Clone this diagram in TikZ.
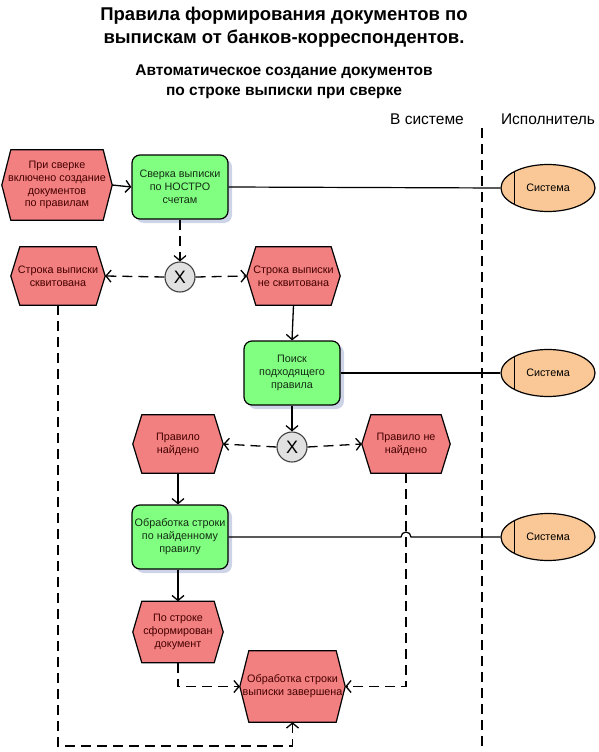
\documentclass[tikz,border=0pt]{standalone}
\usepackage{fontspec}
\setmainfont{Liberation Sans}
\usetikzlibrary{arrows.meta,shadows,calc,shapes.misc,shapes.geometric}
\definecolor{hexred}{RGB}{242,128,128}
\definecolor{hextext}{RGB}{70,0,0}
\definecolor{greenfill}{RGB}{128,255,128}
\definecolor{boxtext}{RGB}{20,45,20}
\definecolor{shadowblue}{RGB}{205,212,232}
\definecolor{peach}{RGB}{250,200,150}
\definecolor{xorgray}{RGB}{225,225,225}
\pgfdeclarelayer{bg}
\pgfsetlayers{bg,main}
\begin{document}
\begin{tikzpicture}[x=1pt,y=-1pt,
  nodefont/.style={font=\fontsize{10.8}{12.9}\selectfont},
  hexnode/.style={rectangle, inner sep=0pt, align=center, text=hextext, nodefont},
  hexshape/.style={draw=black, line width=1.2pt, fill=hexred},
  funcbox/.style={draw=black, line width=1.2pt, fill=greenfill, rounded corners=8pt,
    align=center, inner sep=0pt, text=boxtext, nodefont,
    minimum width=96pt, minimum height=64pt,
    drop shadow={fill=shadowblue, opacity=1, shadow xshift=4pt, shadow yshift=-4pt}},
  sysnode/.style={ellipse, draw=black, line width=1.2pt, fill=peach,
    minimum width=94pt, minimum height=47pt, inner sep=0pt, nodefont,
    path picture={\draw[line width=1pt] ($(path picture bounding box.west)+(13pt,30pt)$) -- ++(0pt,-60pt);}},
  xornode/.style={circle, draw=black!75, line width=1.1pt, fill=xorgray, minimum size=30pt,
    inner sep=0pt, font=\fontsize{18}{18}\selectfont},
  flow/.style={line width=1.3pt, -{Straight Barb[length=5pt,width=12pt]}},
  dflow/.style={flow, dash pattern=on 10pt off 6pt},
  dline/.style={line width=1.3pt, dash pattern=on 10pt off 6pt},
  sline/.style={line width=1.2pt},
  titlefont/.style={font=\fontsize{18.5}{23}\selectfont\bfseries, align=center},
  subfont/.style={font=\fontsize{15.5}{19.5}\selectfont\bfseries, align=center},
  headfont/.style={font=\fontsize{15.5}{17}\selectfont}
]
\useasboundingbox (0,0) rectangle (598,752);

% titles
\node[titlefont] (title) at (284,27) {Правила формирования документов по\\выпискам от банков-корреспондентов.};
\node[subfont] (sub) at (284,82) {Автоматическое создание документов\\по строке выписки при сверке};
\node[headfont] (hsys) at (427,119) {В системе};
\node[headfont] (hexe) at (548,119) {Исполнитель};

% lane separator
\coordinate (lt) at (482,128);
\coordinate (lb) at (482,752);
\draw[dline] (lt) -- (lb);

% hexagon events
\node[hexnode, minimum width=110pt, minimum height=70pt] (h1) at (57,185) {При сверке\\включено создание\\документов\\по правилам};
\node[hexnode, minimum width=94pt, minimum height=58pt] (h2) at (58,276) {Строка выписки\\сквитована};
\node[hexnode, minimum width=93pt, minimum height=58pt] (h3) at (293.5,276) {Строка выписки\\не сквитована};
\node[hexnode, minimum width=90pt, minimum height=58pt] (h4) at (178,444) {Правило\\найдено};
\node[hexnode, minimum width=88pt, minimum height=58pt] (h5) at (406,444) {Правило не\\найдено};
\node[hexnode, minimum width=90pt, minimum height=61pt] (h6) at (178,632) {По строке\\сформирован\\документ};
\node[hexnode, minimum width=105pt, minimum height=71pt] (h7) at (292.5,686.5) {Обработка строки\\выписки завершена};

\begin{pgfonlayer}{bg}
\foreach \n in {h1,h2,h3,h4,h5,h6,h7}
  \filldraw[hexshape] (\n.west) -- ([xshift=9pt]\n.north west) -- ([xshift=-9pt]\n.north east)
    -- (\n.east) -- ([xshift=-9pt]\n.south east) -- ([xshift=9pt]\n.south west) -- cycle;
\end{pgfonlayer}

% functions
\node[funcbox] (b1) at (180,187) {Сверка выписки\\по НОСТРО\\счетам};
\node[funcbox] (b2) at (292,373) {Поиск\\подходящего\\правила};
\node[funcbox] (b3) at (180,537) {Обработка строки\\по найденному\\правилу};

% executors
\node[sysnode] (e1) at (548,188) {Система};
\node[sysnode] (e2) at (548,373) {Система};
\node[sysnode] (e3) at (548,537) {Система};

% XOR
\node[xornode] (x1) at (180,277) {X};
\node[xornode] (x2) at (292,447) {X};

% connectors
\draw[flow] (h1.east) -- (b1.west);
\draw[sline] (b1.east) -- (e1.west);
\draw[dflow] (b1.south) -- (x1.north);
\draw[dflow] (x1.west) -- (h2.east);
\draw[dflow] (x1.east) -- (h3.west);
\draw[flow] (h3.south) -- (b2.north);
\draw[sline] (b2.east) -- (e2.west);
\draw[flow] (b2.south) -- (x2.north);
\draw[dflow] (x2.west) -- (h4.east);
\draw[dflow] (x2.east) -- (h5.west);
\draw[flow] (h4.south) -- (b3.north -| h4.south);
\coordinate (hop) at (406,537);
\draw[sline] (b3.east) -- ([xshift=-5pt]hop) arc[start angle=180,end angle=0,radius=5pt] -- (e3.west);
\draw[flow] (b3.south -| h6.north) -- (h6.north);
\draw[dflow] (h6.south) |- (h7.west);
\draw[dflow] (h5.south) |- (h7.east);
\coordinate (bot) at (58,746);
\draw[dflow] (h2.south) -- (bot) -| (h7.south);
\end{tikzpicture}
\end{document}
